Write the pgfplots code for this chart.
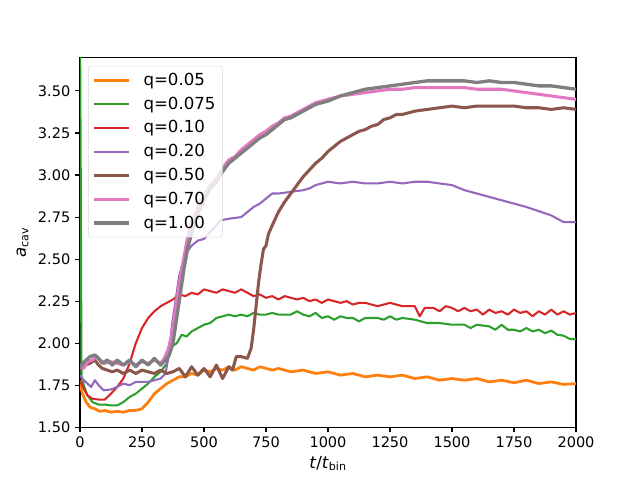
\documentclass[border=0pt]{standalone}
\usepackage{fontspec}
\setmainfont{DejaVu Sans}
\usepackage{pgfplots}
\pgfplotsset{compat=1.18}

\definecolor{c0}{HTML}{FF7F0E}
\definecolor{c1}{HTML}{2CA02C}
\definecolor{c2}{HTML}{D62728}
\definecolor{c3}{HTML}{9467BD}
\definecolor{c4}{HTML}{8C564B}
\definecolor{c5}{HTML}{E377C2}
\definecolor{c6}{HTML}{7F7F7F}

\begin{document}
\begin{tikzpicture}
\begin{axis}[
    scale only axis,
    width=4.96in, height=3.70in,
    xmin=0, xmax=2000,
    ymin=1.5, ymax=3.70,
    xtick={0,250,...,2000},
    ytick={1.5,1.75,2,2.25,2.5,2.75,3,3.25,3.5},
    tick align=outside,
    tick pos=left,
    major tick length=3.5pt,
    axis line style={line width=0.8pt},
    every tick/.style={black, line width=0.8pt},
    /pgf/number format/assume math mode=true,
    tick label style={font=\fontsize{10.5}{12}\selectfont},
    label style={font=\fontsize{12}{14}\selectfont},
    xticklabel style={/pgf/number format/1000 sep={}},
    yticklabel style={/pgf/number format/.cd, fixed, fixed zerofill, precision=2},
    xlabel={\textit{t}/\textit{t}\textsubscript{bin}},
    ylabel={\textit{a}\textsubscript{cav}},
    xlabel style={yshift=1pt},
    legend cell align=left,
    legend style={
        at={(0,1)}, anchor=north west, xshift=0.08in, yshift=-0.085in,
        fill=white, fill opacity=0.8, text opacity=1,
        draw=black!15, rounded corners=2pt,
        row sep=2.8pt, inner xsep=3pt, inner ysep=3pt,
        font=\fontsize{12}{14}\selectfont,
    },
    legend image code/.code={\draw[#1] (0cm,0cm) -- (0.35in,0cm); \path (0.45in,0cm);},
    every axis plot/.append style={line join=round},
]

% q=0.05
\addplot[c0, line width=2pt] coordinates {
(0,1.76)(10,1.70)(25,1.65)(40,1.62)(60,1.61)(80,1.595)(100,1.60)(125,1.59)(150,1.595)(175,1.59)
(200,1.60)(225,1.60)(250,1.61)(275,1.65)(300,1.70)(325,1.73)(350,1.76)(375,1.78)(400,1.80)(425,1.80)
(450,1.82)(475,1.81)(500,1.84)(525,1.83)(550,1.85)(575,1.84)(600,1.86)(625,1.84)(650,1.86)(675,1.85)
(700,1.84)(725,1.86)(750,1.85)(775,1.84)(800,1.85)(850,1.83)(900,1.84)(950,1.82)(1000,1.83)(1050,1.81)
(1100,1.82)(1150,1.80)(1200,1.81)(1250,1.80)(1300,1.81)(1350,1.79)(1400,1.80)(1450,1.78)(1500,1.79)
(1550,1.78)(1600,1.79)(1650,1.77)(1700,1.78)(1750,1.765)(1800,1.78)(1850,1.76)(1900,1.77)(1950,1.755)(2000,1.76)
};
\addlegendentry{q=0.05}

% q=0.075
\addplot[c1, line width=1.5pt] coordinates {
(0,3.9)(3,3.0)(6,1.80)(15,1.75)(30,1.69)(50,1.65)(75,1.635)(100,1.635)(125,1.63)(150,1.63)
(175,1.65)(200,1.68)(225,1.70)(250,1.73)(275,1.76)(300,1.80)(325,1.83)(350,1.88)(360,1.93)(370,1.98)
(390,2.00)(410,2.05)(430,2.04)(450,2.07)(475,2.09)(500,2.11)(525,2.12)(550,2.15)(575,2.16)(600,2.17)
(625,2.16)(650,2.17)(675,2.16)(700,2.18)(725,2.17)(750,2.17)(775,2.18)(800,2.17)(825,2.17)(850,2.17)
(875,2.19)(900,2.17)(925,2.16)(950,2.18)(975,2.15)(1000,2.16)(1025,2.14)(1050,2.16)(1075,2.15)(1100,2.15)
(1125,2.13)(1150,2.15)(1200,2.15)(1225,2.14)(1250,2.16)(1275,2.14)(1300,2.15)(1350,2.14)(1400,2.12)
(1450,2.12)(1500,2.11)(1550,2.11)(1575,2.09)(1600,2.11)(1650,2.10)(1675,2.08)(1700,2.11)(1725,2.08)
(1750,2.08)(1775,2.07)(1800,2.09)(1825,2.07)(1850,2.08)(1875,2.06)(1900,2.075)(1925,2.05)(1950,2.045)
(1975,2.025)(2000,2.025)
};
\addlegendentry{q=0.075}

% q=0.10
\addplot[c2, line width=1.5pt] coordinates {
(0,1.78)(15,1.73)(30,1.69)(50,1.67)(75,1.665)(100,1.665)(125,1.70)(150,1.74)(175,1.79)(200,1.88)
(225,2.00)(250,2.09)(275,2.15)(300,2.19)(325,2.22)(350,2.24)(375,2.26)(400,2.29)(425,2.28)(450,2.30)
(475,2.29)(500,2.32)(525,2.31)(550,2.30)(575,2.32)(600,2.31)(625,2.30)(650,2.32)(675,2.30)(700,2.28)
(725,2.29)(750,2.27)(775,2.28)(800,2.26)(825,2.28)(850,2.27)(875,2.26)(900,2.27)(925,2.25)(950,2.26)
(975,2.24)(1000,2.26)(1025,2.25)(1050,2.24)(1075,2.25)(1100,2.23)(1125,2.24)(1150,2.24)(1200,2.22)
(1250,2.24)(1300,2.22)(1350,2.22)(1370,2.16)(1390,2.21)(1425,2.21)(1450,2.19)(1475,2.22)(1500,2.21)
(1525,2.19)(1550,2.21)(1575,2.19)(1600,2.20)(1625,2.17)(1650,2.20)(1675,2.18)(1700,2.19)(1725,2.17)
(1750,2.20)(1775,2.18)(1800,2.19)(1825,2.16)(1850,2.19)(1875,2.17)(1900,2.20)(1925,2.17)(1950,2.19)
(1975,2.17)(2000,2.18)
};
\addlegendentry{q=0.10}

% q=0.20
\addplot[c3, line width=1.5pt] coordinates {
(0,1.81)(15,1.78)(30,1.76)(45,1.74)(60,1.78)(75,1.75)(95,1.72)(125,1.725)(150,1.74)(175,1.76)
(200,1.75)(225,1.77)(250,1.77)(275,1.77)(300,1.78)(325,1.79)(345,1.82)(360,1.95)(370,2.10)(385,2.25)
(400,2.40)(415,2.48)(430,2.54)(450,2.58)(475,2.61)(500,2.62)(525,2.66)(550,2.70)(565,2.73)(600,2.74)
(625,2.745)(650,2.75)(675,2.78)(700,2.81)(725,2.83)(750,2.86)(775,2.89)(800,2.89)(850,2.90)(900,2.91)
(925,2.92)(950,2.94)(975,2.95)(1000,2.96)(1050,2.95)(1100,2.96)(1150,2.95)(1200,2.95)(1250,2.96)
(1300,2.95)(1350,2.96)(1400,2.96)(1450,2.95)(1500,2.94)(1550,2.91)(1600,2.89)(1650,2.87)(1700,2.85)
(1750,2.83)(1800,2.81)(1850,2.785)(1900,2.76)(1950,2.72)(2000,2.72)
};
\addlegendentry{q=0.20}

% q=0.50
\addplot[c4, line width=2.2pt] coordinates {
(0,1.84)(10,1.86)(20,1.87)(40,1.88)(60,1.90)(75,1.87)(90,1.85)(110,1.84)(130,1.83)(150,1.84)
(175,1.82)(200,1.84)(225,1.82)(250,1.84)(275,1.83)(300,1.82)(325,1.84)(350,1.82)(375,1.83)(400,1.85)
(425,1.80)(450,1.86)(475,1.81)(500,1.85)(525,1.80)(550,1.87)(575,1.79)(600,1.86)(615,1.84)(630,1.92)
(650,1.92)(675,1.91)(690,1.97)(700,2.08)(710,2.22)(720,2.36)(730,2.47)(740,2.56)(750,2.58)(760,2.65)
(775,2.70)(800,2.78)(825,2.84)(850,2.89)(875,2.94)(900,2.99)(925,3.03)(950,3.07)(975,3.10)(1000,3.14)
(1025,3.17)(1050,3.20)(1075,3.22)(1100,3.24)(1125,3.26)(1150,3.27)(1175,3.29)(1200,3.30)(1225,3.33)
(1250,3.34)(1275,3.36)(1300,3.36)(1325,3.37)(1350,3.38)(1400,3.39)(1450,3.40)(1500,3.41)(1550,3.40)
(1600,3.41)(1650,3.41)(1700,3.41)(1750,3.41)(1800,3.40)(1850,3.40)(1900,3.39)(1950,3.40)(2000,3.39)
};
\addlegendentry{q=0.50}

% q=0.70
\addplot[c5, line width=2.2pt] coordinates {
(0,1.86)(15,1.85)(30,1.89)(50,1.90)(65,1.92)(80,1.90)(100,1.88)(125,1.89)(150,1.88)(175,1.87)
(200,1.89)(225,1.87)(250,1.89)(275,1.88)(300,1.90)(325,1.88)(340,1.91)(355,1.96)(370,2.05)(385,2.20)
(400,2.35)(415,2.48)(430,2.60)(450,2.72)(475,2.81)(500,2.88)(525,2.94)(550,2.98)(575,3.04)(600,3.09)
(625,3.11)(650,3.15)(675,3.18)(700,3.21)(725,3.24)(750,3.26)(775,3.29)(800,3.31)(825,3.34)(850,3.35)
(875,3.37)(900,3.39)(925,3.41)(950,3.43)(975,3.44)(1000,3.45)(1050,3.47)(1100,3.48)(1150,3.49)
(1200,3.50)(1250,3.51)(1300,3.51)(1350,3.52)(1400,3.52)(1450,3.52)(1500,3.52)(1550,3.52)(1600,3.51)
(1650,3.51)(1700,3.51)(1750,3.50)(1800,3.49)(1850,3.48)(1900,3.47)(1950,3.46)(2000,3.45)
};
\addlegendentry{q=0.70}

% q=1.00
\addplot[c6, line width=2.4pt] coordinates {
(0,1.85)(10,1.88)(25,1.90)(40,1.92)(60,1.93)(75,1.91)(90,1.88)(110,1.90)(130,1.87)(150,1.90)
(175,1.87)(200,1.90)(225,1.86)(250,1.90)(275,1.87)(300,1.91)(325,1.87)(345,1.90)(360,1.93)(375,2.00)
(390,2.15)(405,2.30)(420,2.45)(435,2.57)(455,2.68)(475,2.77)(500,2.85)(525,2.92)(550,2.96)(575,3.02)
(600,3.07)(625,3.10)(650,3.13)(675,3.16)(700,3.19)(725,3.22)(750,3.24)(775,3.27)(800,3.30)(825,3.33)
(850,3.34)(875,3.36)(900,3.38)(925,3.40)(950,3.42)(975,3.43)(1000,3.44)(1050,3.47)(1100,3.49)
(1150,3.51)(1200,3.52)(1250,3.53)(1300,3.54)(1350,3.55)(1400,3.56)(1450,3.56)(1500,3.56)(1550,3.56)
(1600,3.55)(1650,3.56)(1700,3.55)(1750,3.55)(1800,3.54)(1850,3.53)(1900,3.53)(1950,3.52)(2000,3.51)
};
\addlegendentry{q=1.00}

\end{axis}
\path[use as bounding box] (current axis.south west) ++(-0.8in,-0.527in) rectangle ++(6.4in,4.8in);
\end{tikzpicture}
\end{document}
